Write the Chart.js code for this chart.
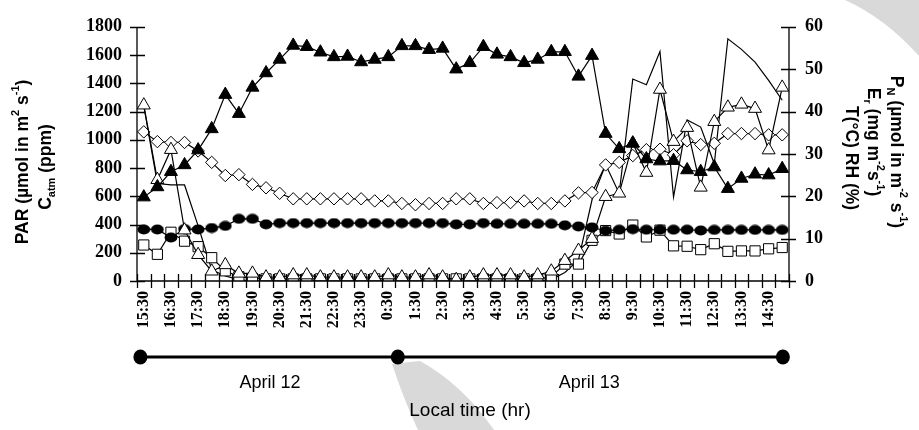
<!DOCTYPE html>
<html><head><meta charset="utf-8">
<script src="https://cdn.jsdelivr.net/npm/chart.js@4.4.1/dist/chart.umd.min.js"></script>
<style>html,body{margin:0;padding:0;background:#fff;}canvas{display:block;}</style>
</head><body>
<canvas id="c" width="919" height="430"></canvas>
<script>
// ---- categories (half-hourly, 15:30 April 12 to 15:00 April 13) ----
const timeLabels = ["15:30","16:00","16:30","17:00","17:30","18:00","18:30","19:00","19:30","20:00",
  "20:30","21:00","21:30","22:00","22:30","23:00","23:30","0:00","0:30","1:00",
  "1:30","2:00","2:30","3:00","3:30","4:00","4:30","5:00","5:30","6:00",
  "6:30","7:00","7:30","8:00","8:30","9:00","9:30","10:00","10:30","11:00",
  "11:30","12:00","12:30","13:00","13:30","14:00","14:30","15:00"];

// ---- series (right axis: RH %, T °C, Er, PN ; left axis: Catm ppm, PAR) ----
const rh = [19.8,22.2,25.8,27.4,30.9,35.9,44.0,39.5,45.7,49.1,
  52.3,55.6,55.3,54.0,52.9,53.0,51.7,52.3,52.9,55.5,
  55.5,54.6,54.9,50.0,51.5,55.3,53.5,52.9,51.5,52.3,
  54.1,54.1,48.3,53.2,34.8,31.2,32.5,28.8,28.3,28.4,
  26.2,25.8,26.9,21.8,24.2,25.2,25.0,26.5];
const temp = [35.2,32.9,32.7,32.7,30.7,28.0,24.9,25.1,22.8,22.0,
  20.7,19.4,19.4,19.4,19.4,19.4,19.4,18.9,18.9,18.3,
  18.0,18.3,18.3,19.4,19.4,18.3,18.5,18.5,18.9,18.3,
  18.3,18.9,20.8,20.9,27.4,28.0,29.6,31.0,31.1,29.8,
  33.1,32.2,32.5,34.8,34.8,34.8,34.5,34.5];
const catm = [365,365,308,368,365,375,390,440,440,401,
  410,410,410,410,410,410,410,410,410,410,
  410,410,410,401,401,410,405,405,405,405,
  405,394,386,379,356,363,367,363,363,363,
  363,358,362,362,362,362,362,362];
const er = [8.5,6.3,11.5,9.4,8.1,5.5,2.4,1.0,0.6,0.5,
  0.5,0.5,0.5,0.5,0.5,0.5,0.5,0.5,0.5,0.5,
  0.5,0.5,0.5,0.5,0.5,0.5,0.5,0.5,0.5,0.5,
  1.0,4.0,4.0,9.6,11.9,11.1,13.2,10.4,12.0,8.3,
  8.2,7.4,8.8,7.0,7.1,7.1,7.6,7.9];
const pn = [41.5,23.9,31.0,12.0,6.2,2.3,3.8,1.8,1.8,0.9,
  0.9,1.4,1.4,0.9,0.9,0.9,0.9,0.9,1.4,0.9,
  0.9,1.4,0.9,0.3,0.9,1.4,1.4,1.4,0.9,1.4,
  2.3,4.8,7.2,10.0,19.9,20.7,32.5,25.6,45.2,32.9,
  36.2,22.1,37.6,41.0,41.7,40.7,30.9,45.7];
const par = [1240,690,680,680,390,80,35,10,0,0,
  0,0,0,0,0,0,0,0,0,0,
  0,0,0,0,0,0,0,0,0,0,
  10,60,150,575,825,620,1430,1390,1625,595,
  1140,1090,830,1715,1640,1550,1420,1280];

// ---- texts ----
const leftTitle = [
  [["PAR (µmol in m",""],["2","sup"],[" s",""],["-1","sup"],[")",""]],
  [["C",""],["atm","sub"],[" (ppm)",""]]
];
const rightTitle = [
  [["P",""],["N","sub"],[" (µmol in m",""],["-2","sup"],[" s",""],["-1","sup"],[")",""]],
  [["E",""],["r","sub"],[" (mg m",""],["-2","sup"],["s",""],["-1","sup"],[")",""]],
  [["T(°C) RH (%)",""]]
];
const dayLabels = ["April 12","April 13"];
const xTitle = "Local time (hr)";
// timeline dots (category-index positions) and day label centres
const dayMarks = [-0.25, 18.7, 47.05];
const dayLabelPos = [9.3, 32.8];

// ellipse marker for filled circles
const ell = document.createElement('canvas');
ell.width = 14; ell.height = 11;
(function(){const g=ell.getContext('2d');g.fillStyle='#000';g.beginPath();g.ellipse(7,5.5,6.4,4.9,0,0,Math.PI*2);g.fill();})();

function drawRich(ctx, segs, cx, cy, rot, size) {
  ctx.save(); ctx.translate(cx, cy); ctx.rotate(rot);
  const f = s => 'bold ' + (s[1] ? Math.round(size*0.62) : size) + 'px "Liberation Sans", Arial, sans-serif';
  let w = 0;
  segs.forEach(s => { ctx.font = f(s); w += ctx.measureText(s[0]).width; });
  let xx = -w/2;
  ctx.textBaseline = 'middle'; ctx.textAlign = 'left'; ctx.fillStyle = '#000';
  segs.forEach(s => {
    ctx.font = f(s);
    const dy = s[1]==='sub' ? size*0.32 : s[1]==='sup' ? -size*0.38 : 0;
    ctx.fillText(s[0], xx, dy);
    xx += ctx.measureText(s[0]).width;
  });
  ctx.restore();
}

const decor = {
  id: 'decor',
  beforeDraw(chart) {
    const ctx = chart.ctx;
    ctx.save();
    ctx.fillStyle = '#d9d9d9';
    ctx.beginPath();
    ctx.moveTo(845, 0);
    ctx.quadraticCurveTo(885, 18, 919, 56);
    ctx.lineTo(919, 0);
    ctx.closePath();
    ctx.fill();
    ctx.beginPath();
    ctx.moveTo(392, 364);
    ctx.quadraticCurveTo(404, 400, 418, 430);
    ctx.lineTo(494, 430);
    ctx.quadraticCurveTo(462, 384, 420, 361);
    ctx.closePath();
    ctx.fill();
    ctx.restore();
  },
  afterDraw(chart) {
    const ctx = chart.ctx, x = chart.scales.x, y = chart.scales.y, y1 = chart.scales.y1;
    const a = chart.chartArea;
    ctx.save();
    ctx.strokeStyle = '#000'; ctx.lineWidth = 1.3;
    ctx.beginPath();
    ctx.moveTo(a.left, y.getPixelForValue(1800)); ctx.lineTo(a.left, a.bottom);
    ctx.moveTo(a.right, y1.getPixelForValue(60)); ctx.lineTo(a.right, a.bottom);
    ctx.moveTo(a.left, a.bottom); ctx.lineTo(a.right, a.bottom);
    y.ticks.forEach(t => { const p = Math.round(y.getPixelForValue(t.value)) + 0.5; ctx.moveTo(a.left-7, p); ctx.lineTo(a.left+8, p); });
    y1.ticks.forEach(t => { const p = Math.round(y1.getPixelForValue(t.value)) + 0.5; ctx.moveTo(a.right-8, p); ctx.lineTo(a.right+7, p); });
    for (let i = 0; i <= timeLabels.length; i++) {
      const p = Math.round(x.getPixelForValue(i - 0.5)) + 0.5;
      ctx.moveTo(p, a.bottom - 7); ctx.lineTo(p, a.bottom + 7);
    }
    ctx.stroke();

    // axis titles
    drawRich(ctx, leftTitle[0], 23, 162, -Math.PI/2, 17.5);
    drawRich(ctx, leftTitle[1], 46, 167, -Math.PI/2, 17.5);
    drawRich(ctx, rightTitle[0], 896, 152, Math.PI/2, 17.5);
    drawRich(ctx, rightTitle[1], 873, 142, Math.PI/2, 17.5);
    drawRich(ctx, rightTitle[2], 851, 158, Math.PI/2, 17.5);

    // timeline
    const ty = 357;
    const px = dayMarks.map(v => x.getPixelForValue(v));
    ctx.lineWidth = 3.2;
    ctx.beginPath(); ctx.moveTo(px[0], ty); ctx.lineTo(px[2], ty); ctx.stroke();
    ctx.fillStyle = '#000';
    px.forEach(p => { ctx.beginPath(); ctx.ellipse(p, ty, 7, 7.5, 0, 0, Math.PI*2); ctx.fill(); });
    ctx.font = '18px "Liberation Sans", Arial, sans-serif';
    ctx.textAlign = 'center'; ctx.textBaseline = 'middle';
    dayLabels.forEach((t, i) => ctx.fillText(t, x.getPixelForValue(dayLabelPos[i]), 383));
    ctx.font = '19px "Liberation Sans", Arial, sans-serif';
    ctx.fillText(xTitle, 470, 411);
    ctx.restore();
  }
};

const lineW = 1.2;
const tickFont = {family: '"Liberation Serif", "Times New Roman", serif', weight: 'bold', size: 18};
new Chart(document.getElementById('c'), {
  type: 'line',
  data: {
    labels: timeLabels,
    datasets: [
      {label: 'RH', data: rh, yAxisID: 'y1', borderColor: '#000', borderWidth: lineW, pointStyle: 'triangle', pointRadius: 7.5, pointBackgroundColor: '#000', pointBorderColor: '#000', pointBorderWidth: 1, tension: 0},
      {label: 'PN', data: pn, yAxisID: 'y1', borderColor: '#000', borderWidth: lineW, pointStyle: 'triangle', pointRadius: 7.5, pointBackgroundColor: '#fff', pointBorderColor: '#000', pointBorderWidth: 1, tension: 0},
      {label: 'T', data: temp, yAxisID: 'y1', borderColor: '#000', borderWidth: lineW, pointStyle: 'rectRot', pointRadius: 6.2, pointBackgroundColor: '#fff', pointBorderColor: '#000', pointBorderWidth: 1, tension: 0},
      {label: 'Catm', data: catm, yAxisID: 'y', borderColor: '#000', borderWidth: lineW, pointStyle: ell, pointRadius: 6, tension: 0},
      {label: 'Er', data: er, yAxisID: 'y1', borderColor: '#000', borderWidth: lineW, pointStyle: 'rect', pointRadius: 7.2, pointBackgroundColor: '#fff', pointBorderColor: '#000', pointBorderWidth: 1, tension: 0},
      {label: 'PAR', data: par, yAxisID: 'y', borderColor: '#000', borderWidth: lineW, pointRadius: 0, tension: 0}
    ]
  },
  options: {
    responsive: false, animation: false, devicePixelRatio: 1,
    layout: {padding: {top: 15, left: 0, right: 0, bottom: 0}},
    plugins: {legend: {display: false}, tooltip: {enabled: false}},
    scales: {
      x: {type: 'category', offset: true,
        grid: {display: false, drawTicks: false, offset: true}, border: {display: false},
        ticks: {autoSkip: false, minRotation: 90, maxRotation: 90, padding: 10, color: '#000',
          font: {family: tickFont.family, weight: 'bold', size: 16},
          callback: (v, i) => timeLabels[i].endsWith(':30') ? timeLabels[i] : ''},
        afterFit(s) { s.height = 149; }},
      y: {position: 'left', min: 0, max: 1800,
        grid: {display: false, drawTicks: false}, border: {display: false},
        ticks: {stepSize: 200, padding: 15, color: '#000', font: tickFont, callback: v => String(v)},
        afterFit(s) { s.width = 137; }},
      y1: {position: 'right', min: 0, max: 60,
        grid: {display: false, drawTicks: false}, border: {display: false},
        ticks: {stepSize: 10, padding: 16, color: '#000', font: tickFont, callback: v => String(v)},
        afterFit(s) { s.width = 130; }}
    }
  },
  plugins: [decor]
});
</script>
</body></html>
